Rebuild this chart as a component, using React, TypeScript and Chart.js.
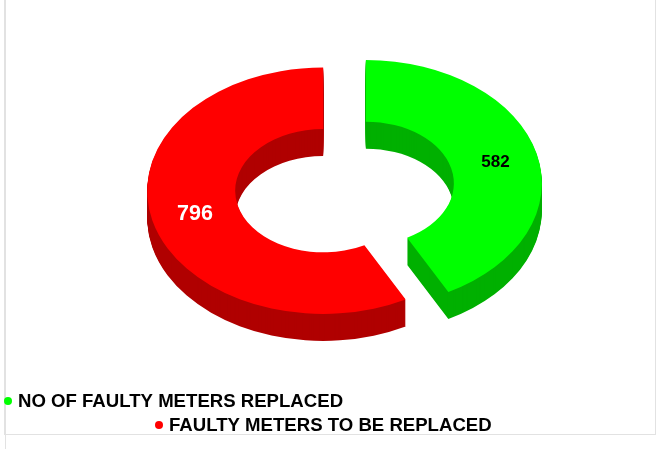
import React, { useEffect, useRef } from "react";
import { Chart, registerables } from "chart.js";

Chart.register(...registerables);

const categories = ["NO OF FAULTY METERS REPLACED", "FAULTY METERS TO BE REPLACED"];
const values = [582, 796];
const faceColors = ["#00ff00", "#ff0000"];
const sideColors = ["#00b000", "#b00000"];
const labelColors = ["#000000", "#ffffff"];
const labelSizes = [17, 21.5];
const labelNudgeX = [1.5, 0];
const legendPos = [{ x: 18, y: 402, dotX: 8 }, { x: 169, y: 426, dotX: 159 }];

const SQUASH = 0.7;
const DEPTH = 27;
const EXPLODE = 22;
const CX = 344.5;
const CY = 187;
const FONT = '"Liberation Sans", Arial, sans-serif';

const explodeOf = (el: any) => {
  const mid = (el.startAngle + el.endAngle) / 2;
  return { dx: Math.cos(mid) * EXPLODE, dy: Math.sin(mid) * EXPLODE };
};

const pie3d = {
  id: "pie3d",
  beforeDatasetDraw(chart: any, args: any) {
    const ctx = chart.ctx;
    const els = args.meta.data;
    const place = (el: any, d: number) => {
      const { dx, dy } = explodeOf(el);
      ctx.translate(0, d);
      ctx.translate(CX, CY);
      ctx.scale(1, SQUASH);
      ctx.translate(-CX, -CY);
      ctx.translate(dx, dy);
    };
    els.forEach((el: any, i: number) => {
      const orig = el.options;
      el.options = Object.assign(Object.create(orig), { backgroundColor: sideColors[i] });
      for (let d = DEPTH; d >= 1; d--) {
        ctx.save();
        place(el, d);
        el.draw(ctx);
        ctx.restore();
      }
      el.options = orig;
    });
    els.forEach((el: any) => {
      ctx.save();
      place(el, 0);
      el.draw(ctx);
      ctx.restore();
    });
    return false;
  },
  afterDatasetsDraw(chart: any) {
    const ctx = chart.ctx;
    const els = chart.getDatasetMeta(0).data;
    ctx.save();
    ctx.textAlign = "center";
    ctx.textBaseline = "middle";
    els.forEach((el: any, i: number) => {
      const p = el.getCenterPoint();
      const { dx, dy } = explodeOf(el);
      const x = p.x + dx + labelNudgeX[i];
      const y = CY + (p.y + dy - CY) * SQUASH + 1;
      ctx.fillStyle = labelColors[i];
      ctx.font = `bold ${labelSizes[i]}px ${FONT}`;
      ctx.fillText(String(values[i]), x, y);
    });
    ctx.restore();
  },
  afterDraw(chart: any) {
    const ctx = chart.ctx;
    ctx.save();
    ctx.fillStyle = "#e2e2e2";
    ctx.fillRect(4, 0, 2, 434);
    ctx.fillRect(5, 434, 1, 15);
    ctx.fillRect(4, 434, 652, 1);
    ctx.fillRect(655, 0, 1, 434);
    ctx.textBaseline = "middle";
    ctx.textAlign = "left";
    ctx.font = `bold 18.6px ${FONT}`;
    categories.forEach((c, i) => {
      const p = legendPos[i];
      ctx.fillStyle = faceColors[i];
      ctx.beginPath();
      ctx.arc(p.dotX, p.y - 1, 4, 0, Math.PI * 2);
      ctx.fill();
      ctx.fillStyle = "#000000";
      ctx.fillText(c, p.x, p.y);
    });
    ctx.restore();
  },
};

export default function App() {
  const ref = useRef<HTMLCanvasElement>(null);
  useEffect(() => {
    document.body.style.margin = "0";
    document.body.style.background = "#ffffff";
    const chart = new Chart(ref.current!, {
      type: "doughnut",
      data: {
        labels: categories,
        datasets: [
          {
            data: values,
            backgroundColor: faceColors,
            borderWidth: 0,
            hoverOffset: 0,
          } as any,
        ],
      },
      options: {
        responsive: false,
        animation: false,
        radius: 176,
        cutout: "50%",
        layout: { padding: { left: 2 * CX - 656, right: 0, top: 0, bottom: 449 - 2 * CY } },
        plugins: { legend: { display: false }, tooltip: { enabled: false } },
      } as any,
      plugins: [pie3d],
    });
    return () => chart.destroy();
  }, []);
  return <canvas ref={ref} width={656} height={449} style={{ display: "block", width: 656, height: 449 }} />;
}
